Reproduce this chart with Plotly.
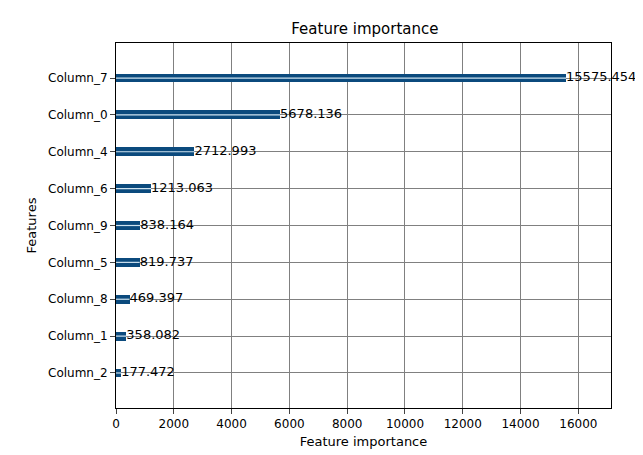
import plotly.graph_objects as go

features = ["Column_2", "Column_1", "Column_8", "Column_5", "Column_9",
            "Column_6", "Column_4", "Column_0", "Column_7"]
importance = [177.472, 358.082, 469.397, 819.737, 838.164,
              1213.063, 2712.993, 5678.136, 15575.454]
labels = [f"{v:.3f}" for v in importance]

ypos = list(range(len(features)))

fig = go.Figure()
fig.add_trace(go.Bar(
    y=ypos, x=importance, orientation="h", width=0.24,
    marker=dict(color="#0b4a7d", line=dict(width=0)),
))
# light highlight line through the middle of each bar
for i, v in enumerate(importance):
    fig.add_trace(go.Scatter(x=[0, v], y=[i, i], mode="lines",
                             line=dict(color="#cfe3f0", width=1.2),
                             hoverinfo="skip"))
fig.add_trace(go.Scatter(
    x=importance, y=ypos, mode="text", text=labels,
    textposition="middle right", cliponaxis=False,
    textfont=dict(family="DejaVu Sans", size=13, color="black"),
))

fig.update_layout(
    width=643, height=455, showlegend=False,
    margin=dict(l=108, r=40, t=35, b=55),
    plot_bgcolor="white", paper_bgcolor="white",
    font=dict(family="DejaVu Sans", size=12, color="black"),
    title=dict(text="Feature importance", x=0.555, y=0.965,
               xanchor="center", font=dict(size=15)),
    bargap=0,
)
fig.update_xaxes(range=[0, 17130], tickvals=list(range(0, 16001, 2000)),
                 tickformat="d", automargin=False,
                 showgrid=True, gridcolor="#808080", gridwidth=1,
                 showline=True, linecolor="black", mirror=True, ticks="outside",
                 title=dict(text="Feature importance", font=dict(size=13), standoff=6),
                 zeroline=False)
fig.update_yaxes(range=[-0.95, 8.95], tickvals=ypos, automargin=False,
                 ticktext=features, showgrid=True, gridcolor="#808080",
                 showline=True, linecolor="black", mirror=True, ticks="outside",
                 title=dict(text="Features", font=dict(size=13), standoff=8),
                 zeroline=False)
fig.write_html("out.html")
